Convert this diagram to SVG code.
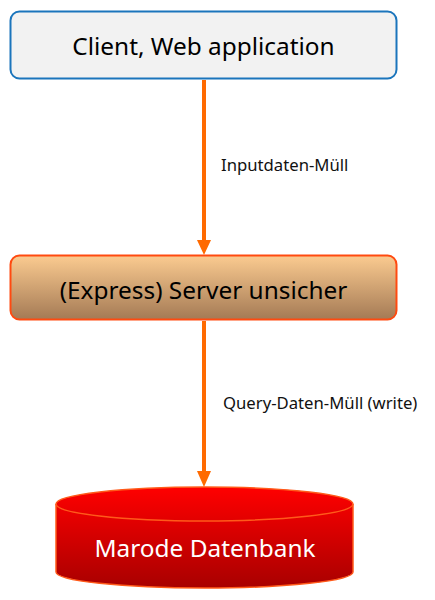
<svg xmlns="http://www.w3.org/2000/svg" width="435" height="600" viewBox="0 0 435 600">
<style>
.lbl{font-family:"Noto Sans","Open Sans","DejaVu Sans",sans-serif;font-size:16.7px;fill:#111}
.node{font-family:"Noto Sans","Open Sans","DejaVu Sans",sans-serif;font-size:24.4px;text-anchor:middle;dominant-baseline:central}
.conn{stroke:#ff6a00;stroke-width:4;fill:none}
.head{fill:#ff6a00}
</style>
<defs>
<linearGradient id="gs" x1="0" y1="0" x2="0" y2="1"><stop offset="0" stop-color="#fbcb90"/><stop offset="1" stop-color="#a47a55"/></linearGradient>
<linearGradient id="gd" x1="0" y1="0" x2="0" y2="1"><stop offset="0" stop-color="#ff0000"/><stop offset="1" stop-color="#a80000"/></linearGradient>
</defs>
<g id="connectors">
<line class="conn" x1="204" y1="80" x2="204" y2="242"/>
<path class="head" d="M197,240 L211,240 L204,255 Z"/>
<line class="conn" x1="204" y1="321" x2="204" y2="473"/>
<path class="head" d="M197,471 L211,471 L204,487 Z"/>
<text class="lbl" x="221" y="171">Inputdaten-Müll</text>
<text class="lbl" x="223" y="409">Query-Daten-Müll (write)</text>
</g>
<g id="client">
<rect x="10.5" y="11.5" width="386" height="67" rx="9" fill="#f2f2f2" stroke="#1b75bc" stroke-width="2"/>
<text class="node" x="203.5" y="45" fill="#000">Client, Web application</text>
</g>
<g id="server">
<rect x="10.5" y="255.5" width="386" height="64" rx="9" fill="url(#gs)" stroke="#ff4a10" stroke-width="2"/>
<text class="node" x="203.5" y="289" fill="#000">(Express) Server unsicher</text>
</g>
<g id="database">
<path d="M56,504 L56,572 A148.5,16 0 0 0 353,572 L353,504 A148.5,17 0 0 0 56,504 Z" fill="url(#gd)" stroke="#ff5a1a" stroke-width="1.5"/>
<path d="M56,504 A148.5,17 0 0 0 353,504" fill="none" stroke="#ff5a1a" stroke-width="1.5"/>
<text class="node" x="205" y="547" fill="#fff">Marode Datenbank</text>
</g>
</svg>
